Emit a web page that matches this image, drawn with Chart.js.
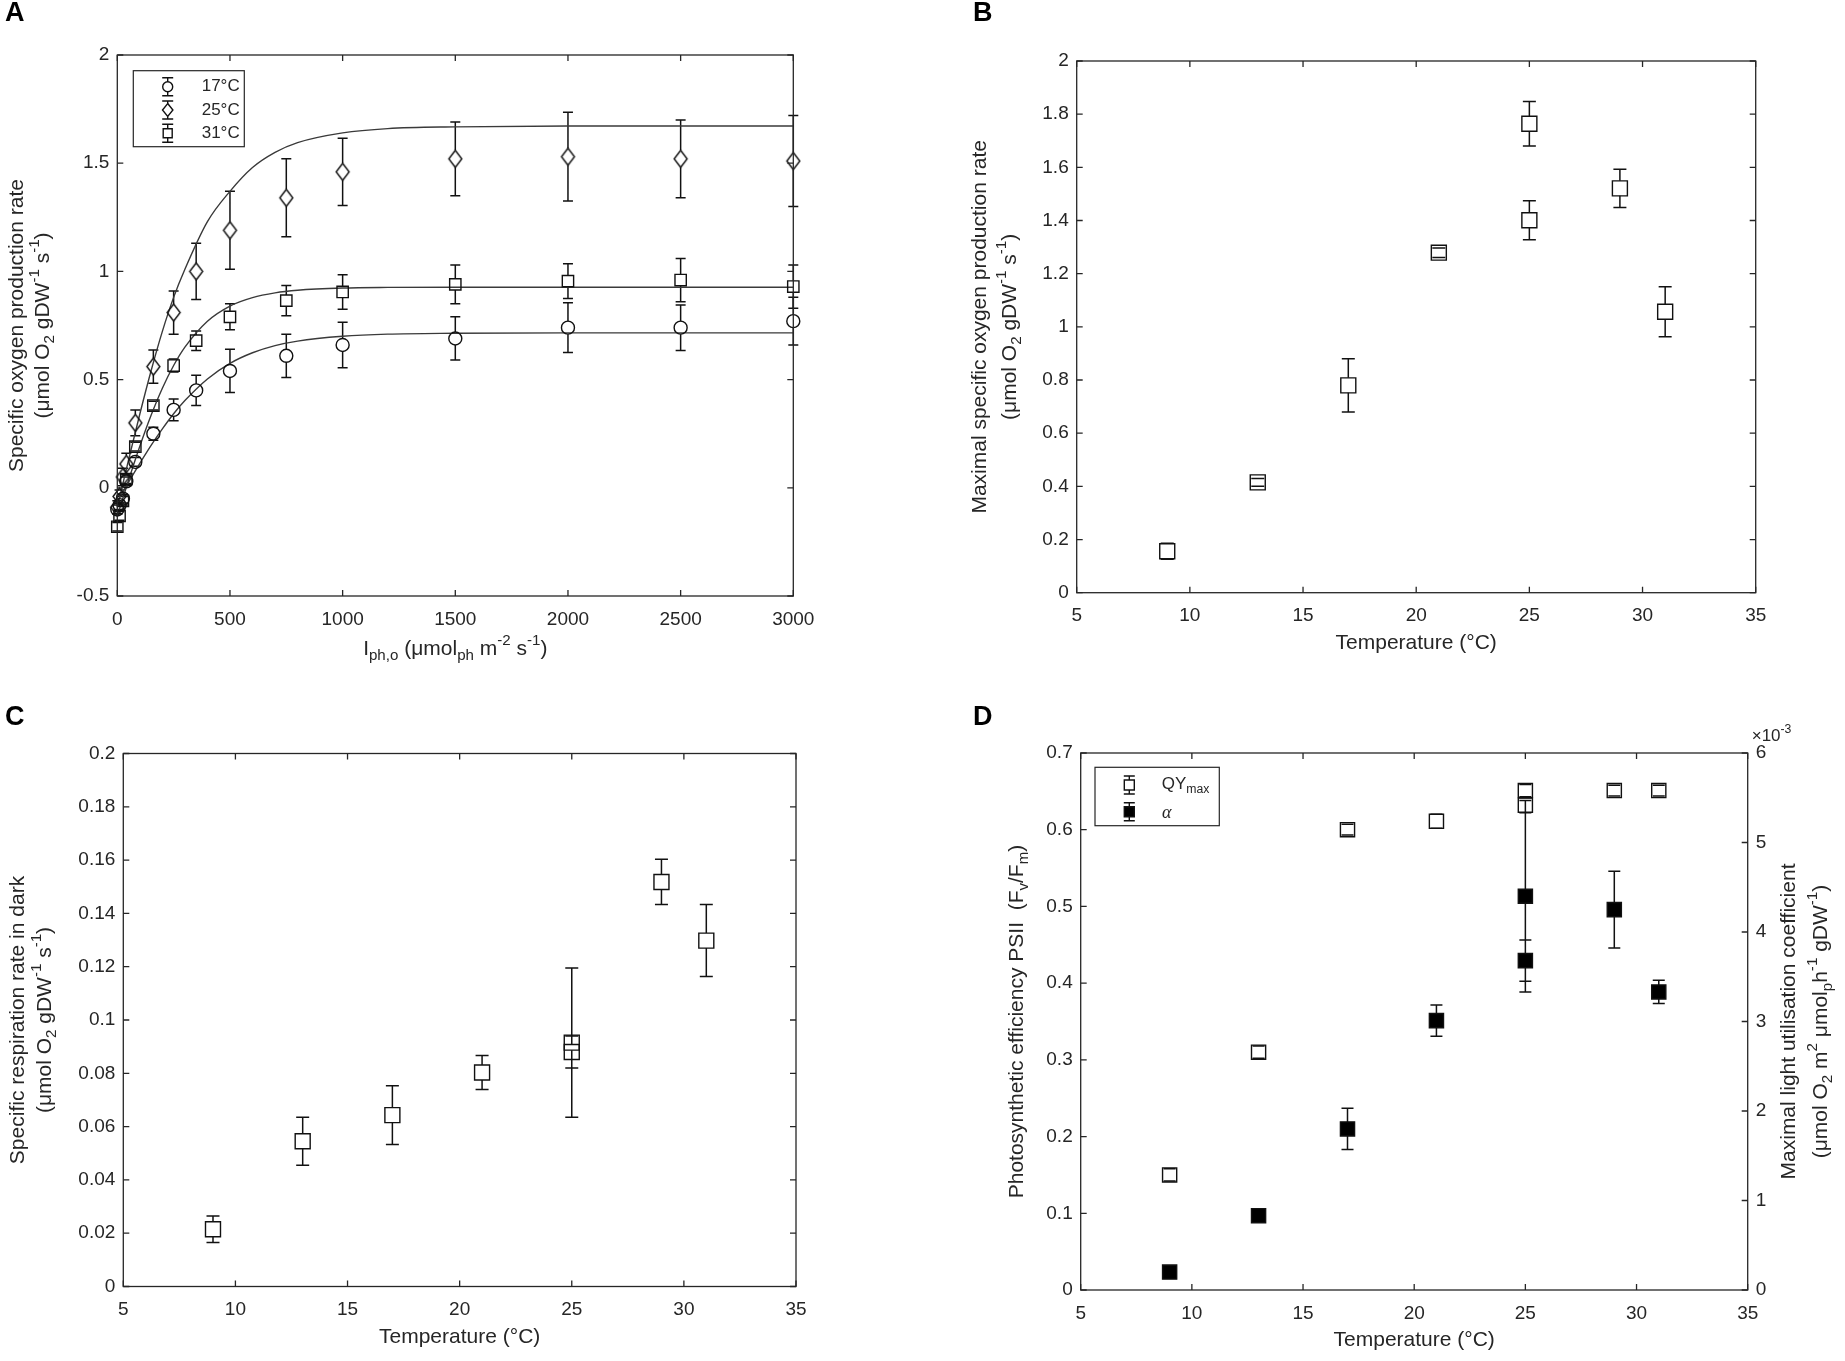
<!DOCTYPE html>
<html>
<head>
<meta charset="utf-8">
<script src="https://cdn.jsdelivr.net/npm/chart.js@4.4.0/dist/chart.umd.min.js"></script>
<style>
html,body{margin:0;padding:0;background:#fff;}
body{width:1845px;height:1361px;position:relative;overflow:hidden;}
.panel{position:absolute;}
</style>
</head>
<body>
<div class="panel" id="pA" style="left:0px;top:0px;width:920px;height:680px"><canvas id="cA"></canvas></div>
<div class="panel" id="pB" style="left:920px;top:0px;width:925px;height:680px"><canvas id="cB"></canvas></div>
<div class="panel" id="pC" style="left:0px;top:680px;width:920px;height:681px"><canvas id="cC"></canvas></div>
<div class="panel" id="pD" style="left:920px;top:680px;width:925px;height:681px"><canvas id="cD"></canvas></div>
<script>
// ---------------- DATA ----------------
// Panel A: light response curves
const lightA = [0, 10, 25, 40, 80, 160, 250, 350, 500, 750, 1000, 1500, 2000, 2500, 3000];
const rate17 = [-0.10, -0.08, -0.05, 0.03, 0.12, 0.25, 0.36, 0.45, 0.54, 0.61, 0.66, 0.69, 0.74, 0.74, 0.77];
const err17  = [0.02, 0.02, 0.02, 0.02, 0.02, 0.03, 0.05, 0.07, 0.10, 0.10, 0.105, 0.10, 0.115, 0.105, 0.11];
const rate25 = [-0.09, -0.04, 0.05, 0.11, 0.30, 0.56, 0.81, 1.00, 1.19, 1.34, 1.46, 1.52, 1.53, 1.52, 1.51];
const err25  = [0.03, 0.03, 0.04, 0.05, 0.06, 0.077, 0.10, 0.13, 0.18, 0.18, 0.155, 0.17, 0.205, 0.18, 0.21];
const rate31 = [-0.18, -0.13, -0.06, 0.04, 0.19, 0.38, 0.565, 0.68, 0.79, 0.865, 0.905, 0.94, 0.955, 0.96, 0.93];
const err31  = [0.02, 0.02, 0.02, 0.02, 0.02, 0.02, 0.03, 0.045, 0.06, 0.07, 0.08, 0.09, 0.08, 0.10, 0.10];
// fitted curves
const fitLight = [0, 50, 100, 150, 200, 250, 300, 400, 500, 600, 700, 800, 1000, 1200, 1500, 2000, 3000];
const fit17 = [-0.064, 0.026, 0.113, 0.196, 0.272, 0.342, 0.403, 0.503, 0.575, 0.624, 0.657, 0.678, 0.700, 0.710, 0.714, 0.716, 0.716];
const fit25 = [-0.09, 0.129, 0.341, 0.541, 0.723, 0.880, 1.010, 1.230, 1.370, 1.480, 1.550, 1.595, 1.640, 1.660, 1.668, 1.672, 1.672];
const fit31 = [-0.13, 0.035, 0.192, 0.335, 0.460, 0.565, 0.650, 0.770, 0.840, 0.879, 0.901, 0.913, 0.923, 0.926, 0.927, 0.927, 0.927];
const aXTicks = [0, 500, 1000, 1500, 2000, 2500, 3000];
const aYTicks = [-0.5, 0, 0.5, 1, 1.5, 2];
const aLegend = ['17°C', '25°C', '31°C'];

// Panel B: maximal specific oxygen production rate
const tempB = [9, 13, 17, 21, 25, 25, 29, 31];
const pmaxB = [0.156, 0.415, 0.78, 1.279, 1.764, 1.401, 1.521, 1.057];
const pmaxErrB = [0.03, 0.015, 0.10, 0.018, 0.084, 0.073, 0.072, 0.094];
const bYTicks = [0, 0.2, 0.4, 0.6, 0.8, 1, 1.2, 1.4, 1.6, 1.8, 2];

// Panel C: dark respiration
const tempC = [9, 13, 17, 21, 25, 25, 29, 31];
const respC = [0.0215, 0.0545, 0.0643, 0.0803, 0.0915, 0.088, 0.1518, 0.1298];
const respErrC = [0.005, 0.009, 0.011, 0.0064, 0.028, 0.006, 0.0085, 0.0135];
const cYTicks = [0, 0.02, 0.04, 0.06, 0.08, 0.1, 0.12, 0.14, 0.16, 0.18, 0.2];

// Panel D: QYmax (left) and alpha (right)
const tempD = [9, 13, 17, 21, 25, 25, 29, 31];
const qyD = [0.150, 0.310, 0.600, 0.611, 0.651, 0.632, 0.651, 0.651];
const qyErrD = [0.008, 0.008, 0.007, 0.009, 0.008, 0.01, 0.007, 0.007];
const alphaD = [0.00020, 0.00083, 0.00180, 0.00301, 0.00440, 0.00368, 0.00425, 0.00333];
const alphaErrD = [0.00003, 0.00003, 0.00023, 0.000175, 0.00107, 0.00023, 0.00043, 0.00013];
const dYTicks = [0, 0.1, 0.2, 0.3, 0.4, 0.5, 0.6, 0.7];
const dY1Ticks = [0, 0.001, 0.002, 0.003, 0.004, 0.005, 0.006];
const tempTicks = [5, 10, 15, 20, 25, 30, 35];

// ---------------- HELPERS ----------------
const FONT = '"Liberation Sans", Arial, Helvetica, sans-serif';
const AXC = '#262626';
const TICK = 19, TITLE = 21, LEG = 17;
Chart.defaults.font.family = FONT;
Chart.defaults.animation = false;

function fmt(v) { return String(Number(v.toFixed(6))); }

function drawRich(ctx, parts, x, y, rot, size, color, align) {
  ctx.save();
  ctx.translate(x, y);
  if (rot) ctx.rotate(rot);
  ctx.fillStyle = color || AXC;
  ctx.textBaseline = 'middle';
  ctx.textAlign = 'left';
  const items = parts.map(p => {
    if (typeof p === 'string') p = {t: p};
    const fs = p.s ? size * 0.72 : size;
    const font = (p.i ? 'italic ' : '') + (p.b ? 'bold ' : '') + fs + 'px ' + (p.f || FONT);
    ctx.font = font;
    return {t: p.t, font, w: ctx.measureText(p.t).width,
      dy: p.s === 'sub' ? size * 0.32 : (p.s === 'sup' ? -size * 0.38 : 0)};
  });
  const total = items.reduce((a, b) => a + b.w, 0);
  let cx = align === 'left' ? 0 : -total / 2;
  items.forEach(it => { ctx.font = it.font; ctx.fillText(it.t, cx, it.dy); cx += it.w; });
  ctx.restore();
}

function linAxis(pos, min, max, tickVals, fitSize, fmtFn) {
  return {
    type: 'linear', position: pos, min: min, max: max,
    grid: {display: false, drawTicks: false}, border: {display: false},
    ticks: {font: {family: FONT, size: TICK}, color: AXC, padding: pos === 'bottom' ? 12 : 8,
      autoSkip: false, maxRotation: 0, minRotation: 0, callback: fmtFn || (v => fmt(v))},
    afterBuildTicks: s => { s.ticks = tickVals.map(v => ({value: v})); },
    afterFit: s => { if (pos === 'bottom') s.height = fitSize; else s.width = fitSize; }
  };
}

// tall diamond marker image (MATLAB style)
function diamondImage(w, h) {
  const c = document.createElement('canvas');
  c.width = w + 4; c.height = h + 4;
  const g = c.getContext('2d');
  g.strokeStyle = '#111'; g.lineWidth = 1.4;
  g.beginPath();
  g.moveTo(c.width / 2, 2); g.lineTo(c.width - 2, c.height / 2);
  g.lineTo(c.width / 2, c.height - 2); g.lineTo(2, c.height / 2); g.closePath();
  g.stroke();
  return c;
}

// draws error bars (vertical segments outside the marker, full caps)
const errPlugin = {
  id: 'errbars',
  beforeDatasetsDraw(chart) {
    const ctx = chart.ctx;
    chart.data.datasets.forEach((ds, i) => {
      if (!ds.errors) return;
      const meta = chart.getDatasetMeta(i);
      const xs = chart.scales[meta.xAxisID], ys = chart.scales[meta.yAxisID];
      ctx.save();
      ctx.strokeStyle = '#111';
      ctx.lineWidth = 1.5;
      ctx.beginPath();
      ds.data.forEach((p, j) => {
        const e = ds.errors[j];
        const px = xs.getPixelForValue(p.x);
        const pc = ys.getPixelForValue(p.y);
        const pHi = ys.getPixelForValue(p.y + e);
        const pLo = ys.getPixelForValue(p.y - e);
        const c = ds.cap / 2, g = ds.gap;
        if (pc - pHi > g) { ctx.moveTo(px, pHi); ctx.lineTo(px, pc - g); }
        if (pLo - pc > g) { ctx.moveTo(px, pc + g); ctx.lineTo(px, pLo); }
        ctx.moveTo(px - c, pHi); ctx.lineTo(px + c, pHi);
        ctx.moveTo(px - c, pLo); ctx.lineTo(px + c, pLo);
      });
      ctx.stroke();
      ctx.restore();
    });
  }
};

// frame with inward ticks on all four sides
const framePlugin = {
  id: 'frame',
  afterDatasetsDraw(chart) {
    const ctx = chart.ctx, a = chart.chartArea, tl = 6;
    ctx.save();
    ctx.strokeStyle = AXC;
    ctx.lineWidth = 1.3;
    ctx.strokeRect(a.left, a.top, a.right - a.left, a.bottom - a.top);
    ctx.beginPath();
    const xs = chart.scales.x, ys = chart.scales.y, y1 = chart.scales.y1;
    xs.ticks.forEach(t => {
      const p = xs.getPixelForValue(t.value);
      ctx.moveTo(p, a.bottom); ctx.lineTo(p, a.bottom - tl);
      ctx.moveTo(p, a.top); ctx.lineTo(p, a.top + tl);
    });
    ys.ticks.forEach(t => {
      const p = ys.getPixelForValue(t.value);
      ctx.moveTo(a.left, p); ctx.lineTo(a.left + tl, p);
      if (!y1) { ctx.moveTo(a.right, p); ctx.lineTo(a.right - tl, p); }
    });
    if (y1) y1.ticks.forEach(t => {
      const p = y1.getPixelForValue(t.value);
      ctx.moveTo(a.right, p); ctx.lineTo(a.right - tl, p);
    });
    ctx.stroke();
    ctx.restore();
  }
};

function errGlyph(ctx, x, y, style, r, filled) {
  ctx.save();
  ctx.strokeStyle = '#111';
  ctx.lineWidth = 1.4;
  ctx.beginPath();
  ctx.moveTo(x, y - 9); ctx.lineTo(x, y - r);
  ctx.moveTo(x, y + r); ctx.lineTo(x, y + 9);
  ctx.moveTo(x - 5.5, y - 9); ctx.lineTo(x + 5.5, y - 9);
  ctx.moveTo(x - 5.5, y + 9); ctx.lineTo(x + 5.5, y + 9);
  ctx.stroke();
  ctx.beginPath();
  if (style === 'circle') ctx.arc(x, y, r, 0, Math.PI * 2);
  else if (style === 'diamond') { ctx.moveTo(x, y - r); ctx.lineTo(x + r * 0.8, y); ctx.lineTo(x, y + r); ctx.lineTo(x - r * 0.8, y); ctx.closePath(); }
  else ctx.rect(x - r, y - r, 2 * r, 2 * r);
  if (filled) { ctx.fillStyle = '#000'; ctx.fill(); }
  ctx.stroke();
  ctx.restore();
}

function build(id, box, area, scales, datasets, decor, hasY1) {
  const padTop = area.top - box.T;
  const rightSpace = box.L + box.W - area.right;
  return new Chart(document.getElementById(id), {
    type: 'scatter',
    data: {datasets: datasets},
    options: {
      responsive: true, maintainAspectRatio: false, animation: false, events: [],
      layout: {padding: {top: padTop, left: 0, bottom: 0, right: hasY1 ? 0 : rightSpace}},
      plugins: {legend: {display: false}, tooltip: {enabled: false}},
      scales: scales
    },
    plugins: [errPlugin, framePlugin, {id: 'decor', afterDraw(chart) { decor(chart.ctx, box); }}]
  });
}

function pts(xs, ys) { return xs.map((x, i) => ({x: x, y: ys[i]})); }

function markerSet(label, xs, ys, errs, style, r, gap, cap, yAxis, filled) {
  return {label: label, data: pts(xs, ys), showLine: false, pointStyle: style, pointRadius: r,
    borderColor: '#111', pointBorderColor: '#111', pointBorderWidth: 1.4,
    pointBackgroundColor: filled ? '#000' : 'rgba(0,0,0,0)', backgroundColor: filled ? '#000' : 'rgba(0,0,0,0)',
    errors: errs, gap: gap, cap: cap, yAxisID: yAxis || 'y', order: 1, clip: false};
}
function fitSet(xs, ys) {
  return {label: 'fit', data: pts(xs, ys), showLine: true, pointRadius: 0, borderColor: '#3a3a3a',
    borderWidth: 1.4, cubicInterpolationMode: 'monotone', fill: false, order: 2};
}

const unitsLine = ['(', 'μmol O', {t: '2', s: 'sub'}, ' gDW', {t: '-1', s: 'sup'}, ' s', {t: '-1', s: 'sup'}, ')'];
const tempTitle = ['Temperature (°C)'];

// ---------------- PANEL A ----------------
(function () {
  const box = {L: 0, T: 0, W: 920, H: 680};
  const area = {left: 117.3, top: 55, right: 793.3, bottom: 596};
  const scales = {
    x: linAxis('bottom', 0, 3000, aXTicks, box.T + box.H - area.bottom),
    y: linAxis('left', -0.5, 2, aYTicks, area.left - box.L)
  };
  const ds = [
    markerSet(aLegend[0], lightA, rate17, err17, 'circle', 6.5, 6.5, 10),
    markerSet(aLegend[1], lightA, rate25, err25, diamondImage(13, 17), 8, 8.5, 10),
    markerSet(aLegend[2], lightA, rate31, err31, 'rect', 8, 5.7, 10),
    fitSet(fitLight, fit17), fitSet(fitLight, fit25), fitSet(fitLight, fit31)
  ];
  build('cA', box, area, scales, ds, function (ctx, b) {
    drawRich(ctx, [{t: 'A', b: true}], 5 - b.L, 13.5 - b.T, 0, 27, '#000', 'left');
    drawRich(ctx, ['I', {t: 'ph,o', s: 'sub'}, ' (', 'μmol', {t: 'ph', s: 'sub'}, ' m', {t: '-2', s: 'sup'}, ' s', {t: '-1', s: 'sup'}, ')'],
      (area.left + area.right) / 2 - b.L, area.bottom + 53 - b.T, 0, TITLE);
    const cy = (area.top + area.bottom) / 2 - b.T;
    drawRich(ctx, ['Specific oxygen production rate'], 17 - b.L, cy, -Math.PI / 2, TITLE);
    drawRich(ctx, unitsLine, 43 - b.L, cy, -Math.PI / 2, TITLE);
    // legend
    ctx.save();
    ctx.fillStyle = '#fff'; ctx.strokeStyle = AXC; ctx.lineWidth = 1.2;
    ctx.fillRect(133.3 - b.L, 70.7 - b.T, 111, 76);
    ctx.strokeRect(133.3 - b.L, 70.7 - b.T, 111, 76);
    ctx.restore();
    const rows = [86.7, 110, 133.3];
    const styles = [['circle', 5], ['diamond', 6.5], ['rect', 4.5]];
    rows.forEach((ry, i) => {
      errGlyph(ctx, 167.7 - b.L, ry - b.T, styles[i][0], styles[i][1], false);
      drawRich(ctx, [aLegend[i]], 201.7 - b.L, ry - b.T, 0, LEG, AXC, 'left');
    });
  }, false);
})();

// ---------------- PANEL B ----------------
(function () {
  const box = {L: 920, T: 0, W: 925, H: 680};
  const area = {left: 1076.7, top: 61, right: 1755.7, bottom: 592.7};
  const scales = {
    x: linAxis('bottom', 5, 35, tempTicks, box.T + box.H - area.bottom),
    y: linAxis('left', 0, 2, bYTicks, area.left - box.L)
  };
  const ds = [markerSet('Pmax', tempB, pmaxB, pmaxErrB, 'rect', 10.6, 7.5, 13)];
  build('cB', box, area, scales, ds, function (ctx, b) {
    drawRich(ctx, [{t: 'B', b: true}], 973 - b.L, 13.5 - b.T, 0, 27, '#000', 'left');
    drawRich(ctx, tempTitle, (area.left + area.right) / 2 - b.L, area.bottom + 51 - b.T, 0, TITLE);
    const cy = (area.top + area.bottom) / 2 - b.T;
    drawRich(ctx, ['Maximal specific oxygen production rate'], 980 - b.L, cy, -Math.PI / 2, TITLE);
    drawRich(ctx, unitsLine, 1010 - b.L, cy, -Math.PI / 2, TITLE);
  }, false);
})();

// ---------------- PANEL C ----------------
(function () {
  const box = {L: 0, T: 680, W: 920, H: 681};
  const area = {left: 123.3, top: 753.5, right: 796, bottom: 1286.5};
  const scales = {
    x: linAxis('bottom', 5, 35, tempTicks, box.T + box.H - area.bottom),
    y: linAxis('left', 0, 0.2, cYTicks, area.left - box.L)
  };
  const ds = [markerSet('Rd', tempC, respC, respErrC, 'rect', 10.6, 7.5, 13)];
  build('cC', box, area, scales, ds, function (ctx, b) {
    drawRich(ctx, [{t: 'C', b: true}], 5 - b.L, 717.5 - b.T, 0, 27, '#000', 'left');
    drawRich(ctx, tempTitle, (area.left + area.right) / 2 - b.L, area.bottom + 51 - b.T, 0, TITLE);
    const cy = (area.top + area.bottom) / 2 - b.T;
    drawRich(ctx, ['Specific respiration rate in dark'], 18 - b.L, cy, -Math.PI / 2, TITLE);
    drawRich(ctx, unitsLine, 45 - b.L, cy, -Math.PI / 2, TITLE);
  }, false);
})();

// ---------------- PANEL D ----------------
(function () {
  const box = {L: 920, T: 680, W: 925, H: 681};
  const area = {left: 1080.7, top: 753, right: 1747.7, bottom: 1290};
  const scales = {
    x: linAxis('bottom', 5, 35, tempTicks, box.T + box.H - area.bottom),
    y: linAxis('left', 0, 0.7, dYTicks, area.left - box.L),
    y1: linAxis('right', 0, 0.006, dY1Ticks, box.L + box.W - area.right, v => fmt(v * 1000))
  };
  const ds = [
    markerSet('QYmax', tempD, qyD, qyErrD, 'rect', 10, 7, 12, 'y', false),
    markerSet('alpha', tempD, alphaD, alphaErrD, 'rect', 10, 7, 12, 'y1', true)
  ];
  build('cD', box, area, scales, ds, function (ctx, b) {
    drawRich(ctx, [{t: 'D', b: true}], 973 - b.L, 717.5 - b.T, 0, 27, '#000', 'left');
    drawRich(ctx, tempTitle, (area.left + area.right) / 2 - b.L, area.bottom + 50 - b.T, 0, TITLE);
    const cy = (area.top + area.bottom) / 2 - b.T;
    drawRich(ctx, ['Photosynthetic efficiency PSII  (F', {t: 'v', s: 'sub'}, '/F', {t: 'm', s: 'sub'}, ')'],
      1017 - b.L, cy, -Math.PI / 2, TITLE);
    drawRich(ctx, ['Maximal light utilisation coefficient'], 1789 - b.L, cy, -Math.PI / 2, TITLE);
    drawRich(ctx, ['(μmol O', {t: '2', s: 'sub'}, ' m', {t: '2', s: 'sup'}, ' μmol', {t: 'p', s: 'sub'}, 'h', {t: '-1', s: 'sup'}, ' gDW', {t: '-1', s: 'sup'}, ')'],
      1821 - b.L, cy, -Math.PI / 2, TITLE);
    drawRich(ctx, ['×10', {t: '-3', s: 'sup'}], 1751.7 - b.L, 736 - b.T, 0, 17, AXC, 'left');
    // legend
    ctx.save();
    ctx.fillStyle = '#fff'; ctx.strokeStyle = AXC; ctx.lineWidth = 1.2;
    ctx.fillRect(1095 - b.L, 767.3 - b.T, 124.3, 58.4);
    ctx.strokeRect(1095 - b.L, 767.3 - b.T, 124.3, 58.4);
    ctx.restore();
    errGlyph(ctx, 1129.3 - b.L, 785 - b.T, 'rect', 5, false);
    errGlyph(ctx, 1129.3 - b.L, 811.7 - b.T, 'rect', 5, true);
    drawRich(ctx, ['QY', {t: 'max', s: 'sub'}], 1161.7 - b.L, 784 - b.T, 0, LEG, AXC, 'left');
    drawRich(ctx, [{t: 'α', i: true, f: '"Liberation Serif", "DejaVu Serif", serif'}], 1162 - b.L, 813 - b.T, 0, 18, AXC, 'left');
  }, true);
})();
</script>
</body>
</html>
